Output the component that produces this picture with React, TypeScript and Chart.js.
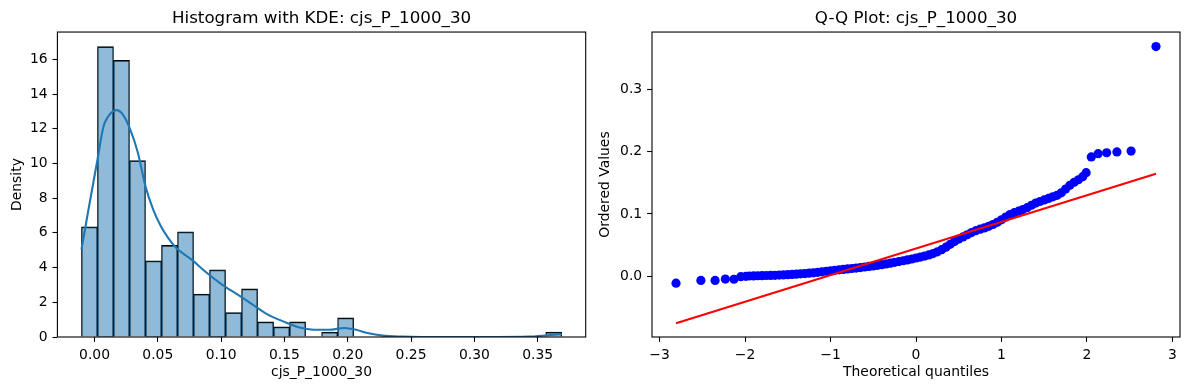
import React, { useEffect, useRef } from "react";
import { Chart, registerables } from "chart.js";

Chart.register(...registerables);

// ---------- texts ----------
const HIST_TITLE = "Histogram with KDE: cjs_P_1000_30";
const HIST_X_LABEL = "cjs_P_1000_30";
const HIST_Y_LABEL = "Density";
const QQ_TITLE = "Q-Q Plot: cjs_P_1000_30";
const QQ_X_LABEL = "Theoretical quantiles";
const QQ_Y_LABEL = "Ordered Values";

// ---------- histogram data ----------
const BIN_START = -0.0103;
const BIN_WIDTH = 0.012643;
const HIST_DENSITY = [
  6.35, 16.73, 15.94, 10.17, 4.39, 5.28, 6.06, 2.48, 3.87, 1.41, 2.77, 0.87, 0.58, 0.87, 0,
  0.29, 1.1, 0, 0, 0, 0, 0, 0, 0, 0, 0, 0, 0, 0, 0.29,
];

// KDE curve
const KDE_X = [
  -0.0103, -0.0051, 0.0023, 0.007, 0.0108, 0.0145, 0.0175, 0.0221, 0.0281, 0.0342, 0.0402,
  0.0463, 0.0523, 0.0584, 0.0644, 0.0765, 0.0886, 0.1007, 0.1128, 0.1249, 0.137, 0.149,
  0.1611, 0.1732, 0.1853, 0.1974, 0.2065, 0.2156, 0.2277, 0.2427, 0.2578, 0.288, 0.318,
  0.3425, 0.3577, 0.369,
];
const KDE_Y = [
  5.04, 7.2, 10.2, 12.1, 12.7, 13.0, 13.07, 12.84, 11.98, 10.63, 8.7, 7.35, 6.39, 5.68, 5.14,
  4.47, 3.7, 3.02, 2.45, 1.87, 1.29, 0.9, 0.56, 0.42, 0.42, 0.52, 0.42, 0.23, 0.08, 0.02, 0.0,
  0.0, 0.0, 0.02, 0.1, 0.17,
];

const HIST_X_TICKS = [0, 0.05, 0.1, 0.15, 0.2, 0.25, 0.3, 0.35];
const HIST_X_TICK_LABELS = ["0.00", "0.05", "0.10", "0.15", "0.20", "0.25", "0.30", "0.35"];
const HIST_Y_TICKS = [0, 2, 4, 6, 8, 10, 12, 14, 16];
const HIST_Y_TICK_LABELS = ["0", "2", "4", "6", "8", "10", "12", "14", "16"];

// ---------- Q-Q data ----------
const QQ_X = [
  -2.807, -2.516, -2.35, -2.23, -2.13, -2.05, -1.99, -1.95, -1.9, -1.85, -1.8, -1.75, -1.7,
  -1.65, -1.6, -1.55, -1.5, -1.45, -1.4, -1.35, -1.3, -1.25, -1.2, -1.15, -1.1, -1.05, -1.0,
  -0.95, -0.9, -0.85, -0.8, -0.75, -0.7, -0.65, -0.6, -0.55, -0.5, -0.45, -0.4, -0.35, -0.3,
  -0.25, -0.2, -0.15, -0.1, -0.05, 0.0, 0.05, 0.1, 0.15, 0.2, 0.25, 0.3, 0.35, 0.4, 0.45, 0.5,
  0.55, 0.6, 0.65, 0.7, 0.75, 0.8, 0.85, 0.9, 0.95, 1.0, 1.05, 1.1, 1.15, 1.2, 1.25, 1.3,
  1.35, 1.4, 1.45, 1.5, 1.55, 1.6, 1.65, 1.7, 1.75, 1.8, 1.85, 1.9, 1.95, 1.99, 2.05, 2.13,
  2.23, 2.35, 2.516, 2.807,
];
const QQ_Y = [
  -0.0115, -0.0071, -0.0071, -0.0049, -0.0052, -0.001, -0.0005, 0.0, 0.0002, 0.0004, 0.0006,
  0.0008, 0.001, 0.0012, 0.0015, 0.0018, 0.0021, 0.0025, 0.003, 0.0035, 0.004, 0.0046, 0.0052,
  0.006, 0.0068, 0.0076, 0.0085, 0.0092, 0.01, 0.0107, 0.0114, 0.0121, 0.0128, 0.0136, 0.0145,
  0.0154, 0.0163, 0.0173, 0.0183, 0.0194, 0.0207, 0.022, 0.0233, 0.0246, 0.026, 0.0274, 0.029,
  0.0305, 0.0322, 0.034, 0.0362, 0.039, 0.0425, 0.0465, 0.051, 0.0555, 0.0595, 0.063, 0.0665,
  0.07, 0.073, 0.0755, 0.0775, 0.08, 0.083, 0.0865, 0.0905, 0.095, 0.099, 0.102, 0.1045, 0.107,
  0.11, 0.114, 0.1175, 0.12, 0.1225, 0.125, 0.1275, 0.13, 0.134, 0.14, 0.146, 0.151, 0.155,
  0.16, 0.1665, 0.1918, 0.197, 0.1985, 0.1998, 0.2012, 0.3695,
];
const QQ_LINE_X = [-2.807, 2.807];
const QQ_LINE_Y = [-0.0759, 0.1645];

const QQ_X_TICKS = [-3, -2, -1, 0, 1, 2, 3];
const QQ_X_TICK_LABELS = ["\u22123", "\u22122", "\u22121", "0", "1", "2", "3"];
const QQ_Y_TICKS = [0, 0.1, 0.2, 0.3];
const QQ_Y_TICK_LABELS = ["0.0", "0.1", "0.2", "0.3"];

// ---------- styling ----------
const FONT = "'DejaVu Sans', sans-serif";
const TICK_SIZE = 13.9;
const TITLE_SIZE = 16.7;

const framePlugin = {
  id: "frame",
  afterDraw(chart: any) {
    const { ctx, chartArea: a } = chart;
    ctx.save();
    ctx.strokeStyle = "#000";
    ctx.lineWidth = 1.1;
    ctx.strokeRect(a.left, a.top, a.right - a.left, a.bottom - a.top);
    ctx.restore();
  },
};

function makeAxis(
  min: number,
  max: number,
  ticks: number[],
  labels: string[],
  title: string,
  titlePad: any,
  fit: (s: any) => void
) {
  return {
    type: "linear",
    min,
    max,
    bounds: "data",
    offset: false,
    afterBuildTicks: (s: any) => {
      s.ticks = ticks.map((v) => ({ value: v }));
    },
    afterFit: fit,
    ticks: {
      autoSkip: false,
      maxRotation: 0,
      minRotation: 0,
      padding: 4.9,
      color: "#000",
      font: { family: FONT, size: TICK_SIZE },
      callback: (_v: any, i: number) => labels[i],
    },
    grid: {
      display: true,
      offset: false,
      drawOnChartArea: false,
      drawTicks: true,
      tickLength: 4.9,
      tickWidth: 1.1,
      tickColor: "#000",
    },
    border: { display: false },
    title: {
      display: true,
      text: title,
      color: "#000",
      font: { family: FONT, size: TICK_SIZE },
      padding: titlePad,
    },
  };
}

function makeTitle(text: string) {
  return {
    display: true,
    text,
    color: "#000",
    fullSize: false,
    font: { family: FONT, size: TITLE_SIZE, weight: "normal" },
    padding: { top: 8.3, bottom: 3.7 },
  };
}

function HistChart() {
  const ref = useRef<HTMLCanvasElement>(null);
  useEffect(() => {
    const barData = HIST_DENSITY.map((d, i) => ({ x: BIN_START + BIN_WIDTH * (i + 0.5), y: d }));
    const kdeData = KDE_X.map((x, i) => ({ x, y: KDE_Y[i] }));
    const chart = new Chart(ref.current as HTMLCanvasElement, {
      type: "bar",
      data: {
        datasets: [
          {
            type: "line",
            data: kdeData,
            borderColor: "#1f77b4",
            borderWidth: 2.1,
            pointRadius: 0,
            cubicInterpolationMode: "monotone",
            order: 0,
          } as any,
          {
            type: "bar",
            data: barData,
            backgroundColor: "rgba(31,119,180,0.5)",
            borderColor: "#000",
            borderWidth: { left: 0.8, right: 0.8, top: 1.1, bottom: 0 },
            borderSkipped: false,
            categoryPercentage: 1,
            barPercentage: 1,
            order: 1,
          } as any,
        ],
      },
      options: {
        animation: false,
        responsive: false,
        devicePixelRatio: 1,
        layout: { padding: { left: 0, right: 8.3, top: 0, bottom: 0 } },
        plugins: {
          legend: { display: false },
          tooltip: { enabled: false },
          title: makeTitle(HIST_TITLE) as any,
        },
        scales: {
          x: makeAxis(-0.0293, 0.3879, HIST_X_TICKS, HIST_X_TICK_LABELS, HIST_X_LABEL, { top: 0, bottom: 9.7 }, (s: any) => {
            s.height = 53;
          }) as any,
          y: makeAxis(0, 17.57, HIST_Y_TICKS, HIST_Y_TICK_LABELS, HIST_Y_LABEL, { top: 8.7, bottom: 0 }, (s: any) => {
            s.width = 57.4;
          }) as any,
        },
      },
      plugins: [framePlugin],
    });
    return () => chart.destroy();
  }, []);
  return <canvas ref={ref} width={594} height={390} style={{ position: "absolute", left: 0, top: 0 }} />;
}

function QQChart() {
  const ref = useRef<HTMLCanvasElement>(null);
  useEffect(() => {
    const pts = QQ_X.map((x, i) => ({ x, y: QQ_Y[i] }));
    const line = QQ_LINE_X.map((x, i) => ({ x, y: QQ_LINE_Y[i] }));
    const chart = new Chart(ref.current as HTMLCanvasElement, {
      type: "scatter",
      data: {
        datasets: [
          {
            type: "line",
            data: line,
            borderColor: "#ff0000",
            borderWidth: 2.1,
            pointRadius: 0,
            showLine: true,
            order: 0,
          } as any,
          {
            type: "scatter",
            data: pts,
            backgroundColor: "#0000ff",
            borderWidth: 0,
            pointRadius: 4.6,
            order: 1,
          } as any,
        ],
      },
      options: {
        animation: false,
        responsive: false,
        devicePixelRatio: 1,
        layout: { padding: { left: 0, right: 9, top: 0, bottom: 0 } },
        plugins: {
          legend: { display: false },
          tooltip: { enabled: false },
          title: makeTitle(QQ_TITLE) as any,
        },
        scales: {
          x: makeAxis(-3.088, 3.088, QQ_X_TICKS, QQ_X_TICK_LABELS, QQ_X_LABEL, { top: 0, bottom: 9.7 }, (s: any) => {
            s.height = 53;
          }) as any,
          y: makeAxis(-0.0982, 0.3929, QQ_Y_TICKS, QQ_Y_TICK_LABELS, QQ_Y_LABEL, { top: 3.4, bottom: 0 }, (s: any) => {
            s.width = 58;
          }) as any,
        },
      },
      plugins: [framePlugin],
    });
    return () => chart.destroy();
  }, []);
  return <canvas ref={ref} width={595} height={390} style={{ position: "absolute", left: 594, top: 0 }} />;
}

export default function App() {
  return (
    <div style={{ position: "absolute", left: 0, top: 0, width: 1189, height: 390, background: "#fff" }}>
      <HistChart />
      <QQChart />
    </div>
  );
}
